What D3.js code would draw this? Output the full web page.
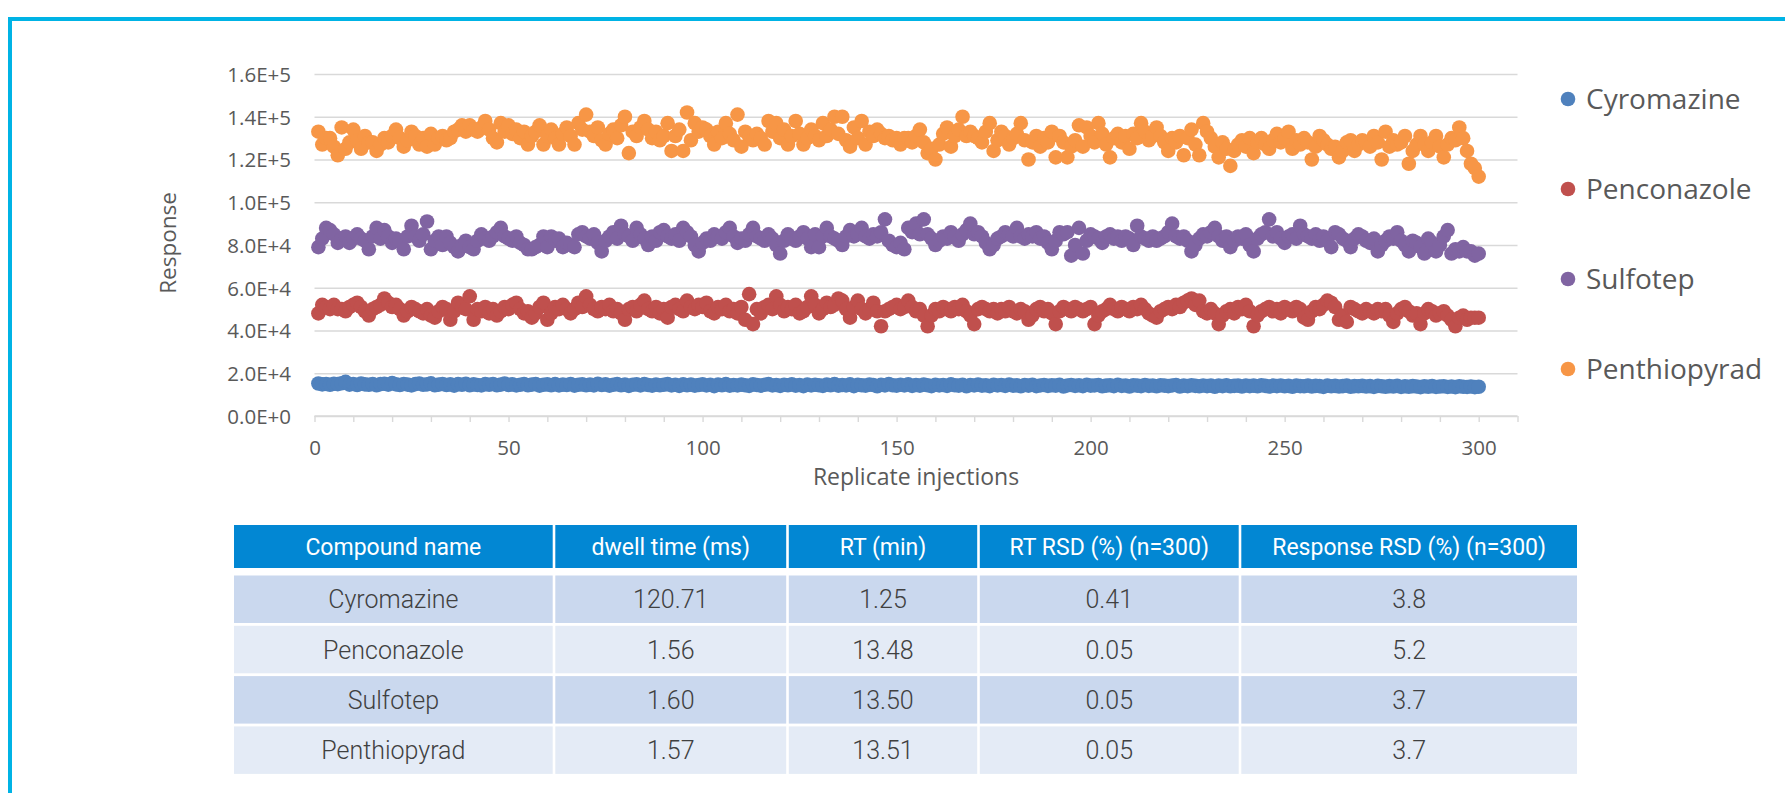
<!DOCTYPE html>
<html>
<head>
<meta charset="utf-8">
<script src="https://cdn.jsdelivr.net/npm/d3@7"></script>
<style>
  html, body { margin: 0; padding: 0; background: #fff; }
  svg { display: block; }
</style>
</head>
<body>
<svg width="1785" height="793"></svg>
<script>
// values, in thousands of counts, injection 1..300
const cyromazine = [
  15.2,14.8,15.0,14.6,15.1,14.9,15.3,16.0,14.7,15.0, 14.5,15.2,14.8,14.6,15.0,14.4,14.9,15.1,14.7,15.4,
  14.8,14.5,15.0,14.7,14.3,14.9,15.2,14.6,14.8,15.3, 14.4,14.7,15.0,14.5,14.8,14.2,14.9,14.6,15.1,14.4,
  14.8,14.5,14.3,14.9,14.6,15.0,14.4,14.7,15.2,14.5, 14.8,14.3,14.6,15.0,14.4,14.7,14.9,14.2,14.6,14.8,
  14.4,14.9,14.3,14.7,14.5,15.0,14.2,14.6,14.8,14.4, 14.7,14.3,15.1,14.5,14.8,14.2,14.6,14.9,14.4,14.7,
  14.1,14.6,14.8,14.3,14.9,14.5,14.2,14.7,14.4,14.6, 14.9,14.3,14.6,14.1,14.8,14.4,14.7,14.2,14.5,14.8,
  14.3,14.6,14.0,14.7,14.4,14.9,14.2,14.5,14.3,14.7, 14.4,14.1,14.8,14.5,14.2,14.6,14.9,14.3,14.5,14.1,
  14.6,14.4,14.8,14.2,14.5,14.0,14.7,14.3,14.6,14.4, 14.1,14.7,14.4,14.9,14.2,14.5,14.3,14.8,14.0,14.6,
  14.4,14.2,14.7,14.5,13.9,14.6,14.3,15.0,14.4,14.2, 14.6,14.3,14.8,14.1,14.5,14.2,14.7,14.4,14.0,14.6,
  14.3,14.5,14.1,14.8,14.4,14.2,14.6,13.9,14.5,14.3, 14.7,14.2,14.4,14.0,14.6,14.3,14.5,14.1,14.7,14.2,
  14.4,13.9,14.5,14.2,14.6,14.0,14.3,14.5,14.1,14.4, 14.2,14.6,13.8,14.3,14.5,14.1,14.4,14.0,14.6,14.2,
  14.3,14.5,13.9,14.2,14.4,14.0,14.6,14.1,14.3,13.8, 14.4,14.2,14.0,14.5,14.1,14.3,13.9,14.4,14.2,14.0,
  14.3,14.5,13.8,14.2,14.0,14.4,14.1,13.9,14.3,14.0, 14.2,13.7,14.3,14.0,14.4,13.9,14.1,14.2,13.8,14.3,
  14.0,14.2,13.9,14.4,14.1,13.8,14.2,14.0,14.3,13.9, 14.1,13.7,14.2,14.0,13.9,14.3,13.8,14.1,14.0,13.6,
  14.2,13.9,14.1,13.8,14.0,14.2,13.7,14.0,13.9,14.1, 13.8,14.0,13.6,14.1,13.9,13.7,14.0,13.8,14.1,13.6,
  13.9,13.7,14.0,13.8,13.5,13.9,13.7,14.0,13.6,13.8, 13.9,13.6,13.8,13.5,13.9,13.7,13.6,13.8,13.5,13.7
];
const penconazole = [
  48,52,51,50,52,50,50,49,51,52, 53,51,49,47,50,51,52,55,53,51, 52,50,47,49,51,50,49,48,50,47,
  46,49,51,50,45,49,53,51,50,56, 45,50,49,51,48,50,47,49,51,50, 52,53,50,48,49,46,48,51,53,45,
  48,51,50,52,50,48,50,53,51,56, 52,50,49,51,50,52,49,50,48,45, 50,51,49,52,54,50,49,51,48,50,
  46,51,52,50,49,54,51,50,52,51, 53,49,48,51,50,52,49,50,48,51, 45,57,43,50,48,51,52,50,56,52,
  49,51,50,52,48,49,51,56,52,48, 50,53,51,52,55,54,50,46,51,54, 50,48,50,53,49,42,49,50,51,52,
  50,51,54,51,49,50,47,42,47,50, 49,51,50,49,51,50,52,49,47,43, 50,51,50,49,50,48,50,49,51,49,
  48,50,49,45,47,50,51,49,50,48, 43,49,51,50,49,51,50,49,50,51, 43,47,49,50,52,50,49,51,50,49,
  51,50,52,50,48,47,46,49,50,51, 50,52,51,53,54,55,52,54,49,48, 50,48,43,47,49,50,48,51,50,52,
  49,42,47,49,50,51,49,50,48,51, 50,49,51,50,46,45,49,51,50,52, 54,53,51,45,47,44,51,50,49,48,
  50,49,48,50,49,50,47,44,48,50, 51,49,47,48,43,48,50,49,47,48, 49,47,45,42,46,47,45,46,46,46
];
const sulfotep = [
  79,83,88,87,85,81,83,84,81,83, 85,83,82,78,84,88,83,87,84,81, 83,82,78,84,89,84,82,85,91,78,
  82,84,80,84,81,79,77,80,82,79, 78,82,85,83,82,84,86,88,84,83, 82,84,81,80,78,78,79,80,84,79,
  84,82,83,79,81,80,79,85,86,84, 83,85,81,77,82,84,86,83,89,85, 84,82,88,85,83,80,84,82,86,87,
  84,83,85,82,88,86,84,80,77,81, 83,82,85,84,83,86,88,84,81,83, 82,85,88,84,83,82,85,83,80,76,
  82,85,83,82,84,86,83,79,85,79, 84,88,84,83,82,80,84,87,84,85, 88,84,83,85,84,86,92,82,80,79,
  81,78,88,86,90,85,92,85,83,80, 82,84,83,86,84,82,85,87,90,85, 86,84,81,78,80,83,84,86,85,84,
  88,84,83,85,84,86,83,84,81,78, 82,86,85,86,75,80,88,76,82,85, 84,83,81,84,85,83,84,82,84,83,
  80,89,84,83,82,84,82,83,84,86, 90,84,83,84,82,77,80,83,85,84, 86,88,84,82,84,79,82,84,83,85,
  80,77,83,85,86,92,84,86,83,81, 84,85,83,89,85,84,83,85,82,84, 82,79,86,85,83,82,79,83,85,84,
  82,81,83,77,80,82,84,83,86,82, 80,77,82,81,79,76,83,81,77,80, 84,87,76,78,77,79,77,77,75,76
];
const penthiopyrad = [
  133,127,130,130,126,122,135,125,128,134, 129,125,131,128,128,124,127,130,128,131,
  134,130,126,129,133,131,127,130,126,132, 127,130,131,129,130,133,134,136,133,136,
  134,133,135,138,134,130,128,137,133,136, 132,134,130,133,127,131,133,136,127,131,
  134,130,127,132,135,131,127,137,134,141, 133,131,135,129,127,132,134,130,136,140,
  123,133,131,135,138,134,130,133,129,131, 137,124,131,134,124,142,129,137,133,135,
  134,131,127,133,130,137,132,129,141,126, 133,131,129,132,130,127,138,133,137,130,
  134,127,131,138,132,127,130,134,131,129, 137,131,134,140,132,140,129,126,135,130,
  138,127,133,131,134,132,130,131,129,130, 127,130,130,128,131,134,128,123,125,120,
  127,132,135,126,131,134,140,131,133,131, 130,128,133,137,124,129,133,131,127,130,
  132,137,129,120,128,131,126,130,128,133, 121,131,128,121,126,129,136,126,135,131,
  128,137,132,127,121,130,132,128,131,125, 132,130,137,133,129,131,135,131,128,124,
  130,128,131,122,130,134,127,122,137,133, 130,126,121,128,125,117,124,127,129,126,
  130,123,128,130,127,125,129,132,128,130, 133,125,129,127,130,128,120,126,131,129,
  127,125,126,121,124,128,129,124,127,129, 128,126,131,128,120,133,126,129,127,128,
  131,118,124,127,131,127,124,128,131,126, 121,127,130,129,135,130,124,118,116,112
];

const seriesNames = ["Cyromazine", "Penconazole", "Sulfotep", "Penthiopyrad"];
const seriesColors = ["#4F81BD", "#C0504D", "#8064A2", "#F79646"];
const seriesValues = [cyromazine, penconazole, sulfotep, penthiopyrad];

const yTicks = [0, 20000, 40000, 60000, 80000, 100000, 120000, 140000, 160000];
const xTicks = d3.range(0, 311, 10);

const tableHeader = ["Compound name", "dwell time (ms)", "RT (min)", "RT RSD (%) (n=300)", "Response RSD (%) (n=300)"];
const tableRows = [
  ["Cyromazine", "120.71", "1.25", "0.41", "3.8"],
  ["Penconazole", "1.56", "13.48", "0.05", "5.2"],
  ["Sulfotep", "1.60", "13.50", "0.05", "3.7"],
  ["Penthiopyrad", "1.57", "13.51", "0.05", "3.7"]
];

const svg = d3.select("svg");
const plot = { left: 314.5, right: 1517.5, top: 74, bottom: 416 };
const chartFont = "'Open Sans', sans-serif";
const textGray = "#595959";

// outer frame (top and left edges)
svg.append("rect").attr("x", 8).attr("y", 17).attr("width", 1777).attr("height", 4).attr("fill", "#00B3E5");
svg.append("rect").attr("x", 8).attr("y", 17).attr("width", 4).attr("height", 776).attr("fill", "#00B3E5");

const x = d3.scaleLinear().domain([0, 310]).range([plot.left, plot.right]);
const y = d3.scaleLinear().domain([0, 160000]).range([plot.bottom, plot.top]);

// y gridlines + labels
const gy = svg.append("g")
  .attr("transform", `translate(${plot.left},0)`)
  .call(d3.axisLeft(y).tickValues(yTicks)
    .tickSize(-(plot.right - plot.left)).tickPadding(23.5)
    .tickFormat(d => d3.format(".1e")(d).replace("e", "E")));
gy.select(".domain").remove();
gy.selectAll("line").attr("stroke", "#D9D9D9").attr("stroke-width", 1.6);
gy.selectAll("text")
  .attr("dy", "0.36em")
  .attr("fill", textGray)
  .style("font-family", chartFont).style("font-size", "20.5px");

// x axis with minor ticks every 10, labels every 50
const gx = svg.append("g")
  .attr("transform", `translate(0,${plot.bottom})`)
  .call(d3.axisBottom(x).tickValues(xTicks).tickSize(6).tickPadding(18)
    .tickFormat(d => d % 50 === 0 ? d : ""));
gx.select(".domain").attr("stroke", "#D9D9D9").attr("stroke-width", 1.6)
  .attr("d", `M${plot.left},0H${plot.right}`);
gx.selectAll("line").attr("stroke", "#D9D9D9").attr("stroke-width", 1.4);
gx.selectAll("text")
  .attr("fill", textGray)
  .style("font-family", chartFont).style("font-size", "20.5px");

// axis titles
svg.append("text")
  .attr("transform", "translate(168,243) rotate(-90)")
  .attr("text-anchor", "middle").attr("dy", "0.35em")
  .attr("fill", textGray)
  .style("font-family", chartFont).style("font-size", "22.5px")
  .text("Response");
svg.append("text")
  .attr("x", (plot.left + plot.right) / 2).attr("y", 477)
  .attr("text-anchor", "middle").attr("dy", "0.35em")
  .attr("fill", textGray)
  .style("font-family", chartFont).style("font-size", "23px")
  .text("Replicate injections");

// scatter series, drawn in legend order
seriesValues.forEach((vals, s) => {
  svg.append("g")
    .selectAll("circle")
    .data(vals)
    .join("circle")
    .attr("cx", (d, i) => x(i + 1))
    .attr("cy", d => y(d * 1000))
    .attr("r", 7.3)
    .attr("fill", seriesColors[s]);
});

// legend
const legend = svg.append("g");
seriesNames.forEach((name, s) => {
  const ly = 99 + s * 90;
  legend.append("circle").attr("cx", 1568).attr("cy", ly).attr("r", 7.3).attr("fill", seriesColors[s]);
  legend.append("text")
    .attr("x", 1586).attr("y", ly).attr("dy", "0.36em")
    .attr("fill", textGray)
    .style("font-family", chartFont).style("font-size", "28px")
    .text(name);
});

// table
const colEdges = [234, 554, 787.5, 978.5, 1240, 1577];
const tableFont = "Roboto, sans-serif";
const table = svg.append("g");

function cellRect(j, top, h, fill) {
  const x0 = colEdges[j] + (j > 0 ? 1.3 : 0);
  const x1 = colEdges[j + 1] - (j < 4 ? 1.3 : 0);
  table.append("rect").attr("x", x0).attr("y", top).attr("width", x1 - x0).attr("height", h).attr("fill", fill);
  return (x0 + x1) / 2;
}

tableHeader.forEach((h, j) => {
  const cx = cellRect(j, 525, 43, "#0287D3");
  table.append("text")
    .attr("x", cx).attr("y", 546.5).attr("dy", "0.36em")
    .attr("text-anchor", "middle").attr("fill", "#fff")
    .style("font-family", tableFont).style("font-size", "23px")
    .text(h);
});

tableRows.forEach((row, k) => {
  const top = 575.5 + k * 50.3;
  const fill = k % 2 === 0 ? "#CAD8EE" : "#E4EBF6";
  row.forEach((v, j) => {
    const cx = cellRect(j, top, 47.5, fill);
    table.append("text")
      .attr("x", cx).attr("y", top + 23.8).attr("dy", "0.36em")
      .attr("text-anchor", "middle").attr("fill", "#404040")
      .style("font-family", tableFont).style("font-weight", 300).style("font-size", "25px")
      .text(v);
  });
});
</script>
</body>
</html>
